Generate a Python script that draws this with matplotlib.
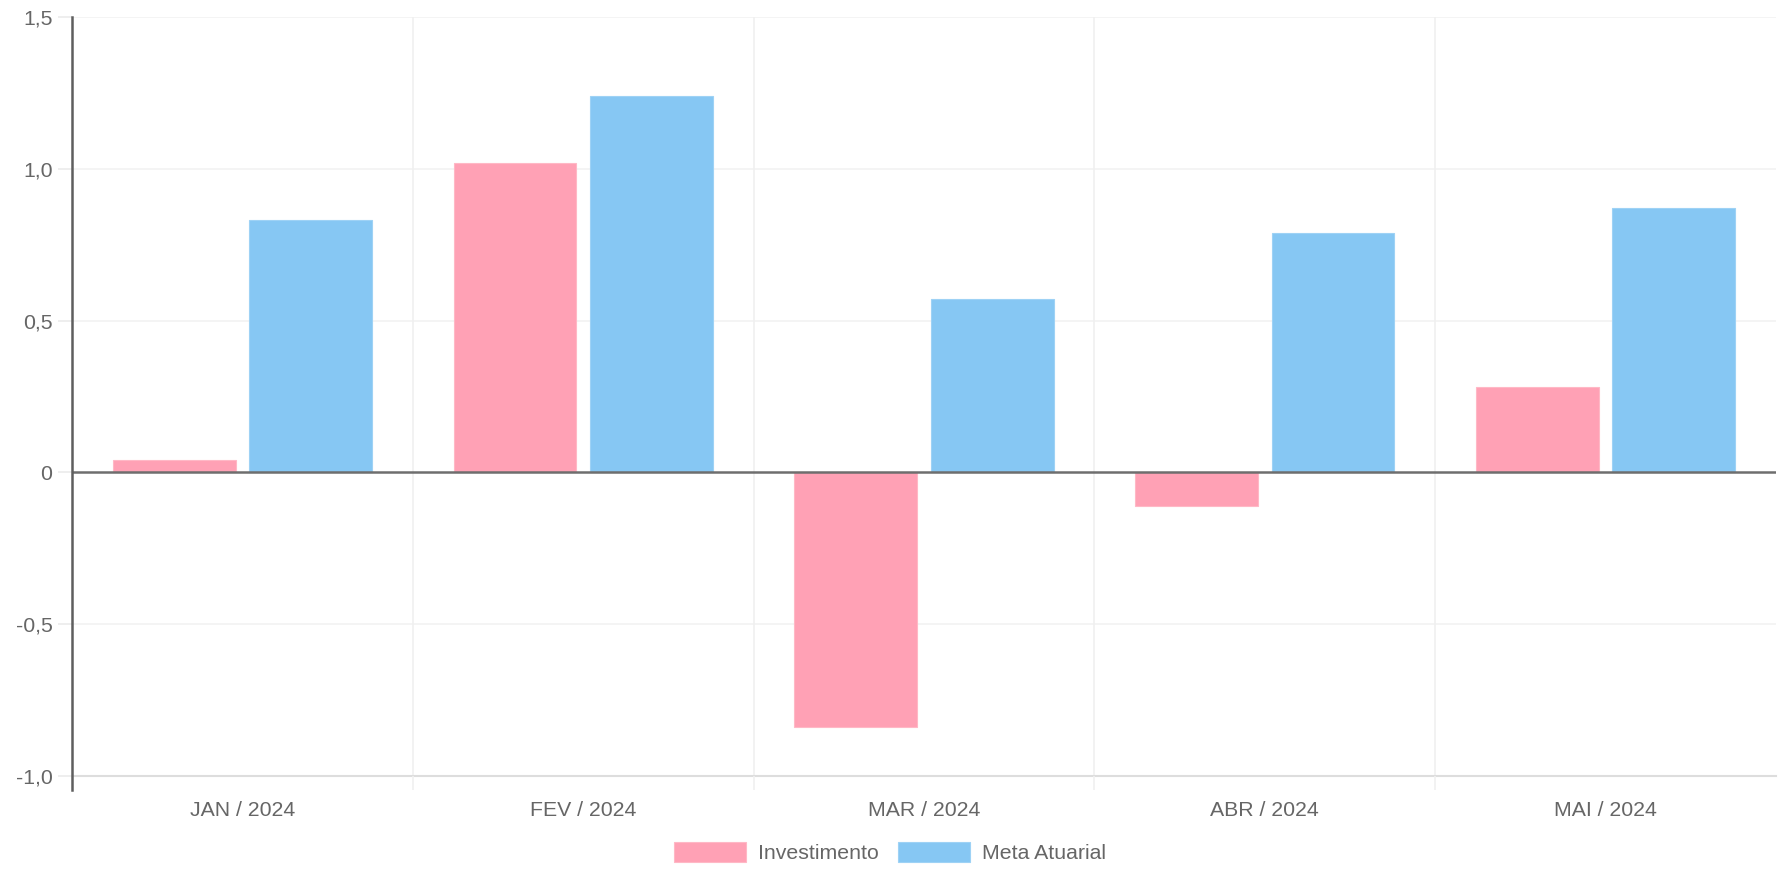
import matplotlib.pyplot as plt
import numpy as np
from matplotlib.ticker import FixedLocator, FuncFormatter

plt.rcParams['font.family'] = ['Liberation Sans', 'DejaVu Sans']

my_dpi = 100
meses = ['JAN / 2024', 'FEV / 2024', 'MAR / 2024', 'ABR / 2024', 'MAI / 2024']
investimento = [0.04, 1.02, -0.84, -0.11, 0.28]
meta_atuarial = [0.83, 1.24, 0.57, 0.79, 0.87]

cor_inv = '#FFA1B5'
cor_meta = '#86C7F3'
cinza_texto = '#666666'

fig = plt.figure(figsize=(1780/my_dpi, 872/my_dpi), dpi=my_dpi)
ax = fig.add_axes([0.0404, 0.1101, 0.9574, 0.8704])

r = np.arange(len(meses))
barWidth = 0.36
b1 = ax.bar(r - 0.2, investimento, width=barWidth, color=cor_inv, zorder=2,
            edgecolor='#FFB8C6', linewidth=0.8)
b2 = ax.bar(r + 0.2, meta_atuarial, width=barWidth, color=cor_meta, zorder=2,
            edgecolor='#9ED2F5', linewidth=0.8)

ax.set_xlim(-0.5, len(meses) - 0.5)
ax.set_ylim(-1.0, 1.5)

# grade
for y in [-0.5, 0.5, 1.0, 1.5]:
    ax.axhline(y, color='#F2F2F2', lw=1.2, zorder=0)
ax.axhline(-1.0, color='#DDDDDD', lw=1.5, zorder=1, clip_on=False)
for x in np.arange(0.5, len(meses) - 0.5, 1):
    ax.axvline(x, color='#F0F0F0', lw=1.2, zorder=0)
ax.axhline(0, color='#6E6E6E', lw=1.8, zorder=3)

for s in ['top', 'right', 'bottom', 'left']:
    ax.spines[s].set_visible(False)
ax.plot([0, 0], [-0.018, 1.0], transform=ax.transAxes, color='#5E5E5E',
        lw=1.8, clip_on=False, zorder=4)

# eixo x
ax.set_xticks(r)
ax.set_xticklabels(meses)
ax.xaxis.set_minor_locator(FixedLocator(np.arange(0.5, len(meses) - 0.5, 1)))
ax.tick_params(axis='x', which='major', length=0, pad=18, labelsize=15.3,
               labelcolor=cinza_texto)
ax.tick_params(axis='x', which='minor', length=10, width=1.2, color='#F0F0F0')

# eixo y
ax.set_yticks([-1.0, -0.5, 0, 0.5, 1.0, 1.5])
ax.yaxis.set_major_formatter(FuncFormatter(
    lambda v, p: '0' if abs(v) < 1e-9 else ('%.1f' % v).replace('.', ',')))
ax.tick_params(axis='y', length=10, width=1.2, color='#EBEBEB', pad=4,
               labelsize=15.3, labelcolor=cinza_texto)

fig.legend([b1, b2], ['Investimento', 'Meta Atuarial'], loc='center',
           bbox_to_anchor=(0.5, 0.022), ncol=2, frameon=False,
           fontsize=15.3, handlelength=3.4, handleheight=1.05,
           handletextpad=0.55, columnspacing=0.9, labelcolor=cinza_texto)

plt.savefig('out.png', dpi=my_dpi)
